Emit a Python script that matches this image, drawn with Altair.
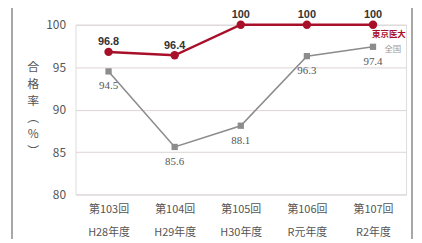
import altair as alt
import pandas as pd

exams = ["第103回", "第104回", "第105回", "第106回", "第107回"]
years = ["H28年度", "H29年度", "H30年度", "R元年度", "R2年度"]
tmu = [96.8, 96.4, 100, 100, 100]
national = [94.5, 85.6, 88.1, 96.3, 97.4]
series_names = ["東京医大", "全国"]
y_ticks = [80, 85, 90, 95, 100]
y_title = ["合", "格", "率", "︵", "%", "︶"]

RED = "#a8102a"
GRAY = "#8c8c8c"
FONT = "Noto Sans CJK JP"

cats = [f"{e}|{y}" for e, y in zip(exams, years)]
df = pd.DataFrame({"cat": cats, "tmu": tmu, "nat": national})
last = pd.DataFrame({"cat": [cats[-1]], "tmu": [tmu[-1]], "nat": [national[-1]],
                     "n1": [series_names[0]], "n2": [series_names[1]]})

xenc = alt.X("cat:N", sort=cats, scale=alt.Scale(type="point", padding=0.5),
             axis=alt.Axis(title=None, labelExpr="split(datum.label,'|')", labelAngle=0,
                           ticks=False, domain=False, grid=False, labelFont=FONT,
                           labelFontSize=11, labelColor="#555", labelPadding=9,
                           labelLineHeight=23))
yscale = alt.Scale(domain=[80, 100], nice=False, zero=False)
yaxis = alt.Axis(values=y_ticks, title=y_title, titleAngle=0, titleX=-43, titleY=37,
                 titleBaseline="top", titleAlign="center", titleLineHeight=17,
                 titleFont=FONT, titleFontSize=12, titleFontWeight="normal",
                 titleColor="#555", ticks=False, domain=False, labelFont=FONT,
                 labelFontSize=12, labelColor="#555", labelPadding=10,
                 gridColor="#ddd3d5", gridWidth=1)

base = alt.Chart(df).encode(x=xenc)

nat_line = base.mark_line(color=GRAY, strokeWidth=1.6).encode(
    y=alt.Y("nat:Q", scale=yscale, axis=yaxis))
nat_pts = base.mark_point(shape="square", filled=True, size=40, color=GRAY, opacity=1).encode(
    y=alt.Y("nat:Q", scale=yscale))
nat_lbl = base.mark_text(dy=15, font="Liberation Serif", fontSize=11, color="#555").encode(
    y=alt.Y("nat:Q", scale=yscale), text=alt.Text("nat:Q"))

tmu_line = base.mark_line(color=RED, strokeWidth=2.5).encode(y=alt.Y("tmu:Q", scale=yscale))
tmu_pts = base.mark_circle(size=72, color=RED, opacity=1).encode(y=alt.Y("tmu:Q", scale=yscale))
tmu_lbl = base.mark_text(dy=-9.5, font="Liberation Sans", fontSize=11, fontWeight="bold",
                         color="#333").encode(
    y=alt.Y("tmu:Q", scale=yscale), text=alt.Text("tmu:Q"))

lb = alt.Chart(last).encode(x=alt.X("cat:N", sort=cats))
leg1 = lb.mark_text(dx=16, dy=9, font=FONT, fontSize=8.5, fontWeight="bold", color=RED).encode(
    y=alt.Y("tmu:Q", scale=yscale), text="n1:N")
leg2 = lb.mark_text(dx=20, dy=2, font=FONT, fontSize=8.5, color="#999").encode(
    y=alt.Y("nat:Q", scale=yscale), text="n2:N")

frame_l = alt.Chart(df).mark_rule(color="#a8a8a8", strokeWidth=1.5).encode(
    x=alt.value(-64), y=alt.value(-20), y2=alt.value(230))
frame_r = alt.Chart(df).mark_rule(color="#a8a8a8", strokeWidth=1.5).encode(
    x=alt.value(339), y=alt.value(-20), y2=alt.value(230))

chart = alt.layer(nat_line, nat_pts, nat_lbl, tmu_line, tmu_pts, tmu_lbl, leg1, leg2,
                  frame_l, frame_r).properties(
    width=333, height=171,
    autosize=alt.AutoSizeParams(type="none"),
    padding={"left": 68, "top": 16, "right": 8, "bottom": 44},
).configure_view(fill="#fcf6f7", stroke="#c09aa4", strokeWidth=1.2).configure(background="white")

chart.save("out.html", embed_options={"renderer": "svg", "actions": False})
